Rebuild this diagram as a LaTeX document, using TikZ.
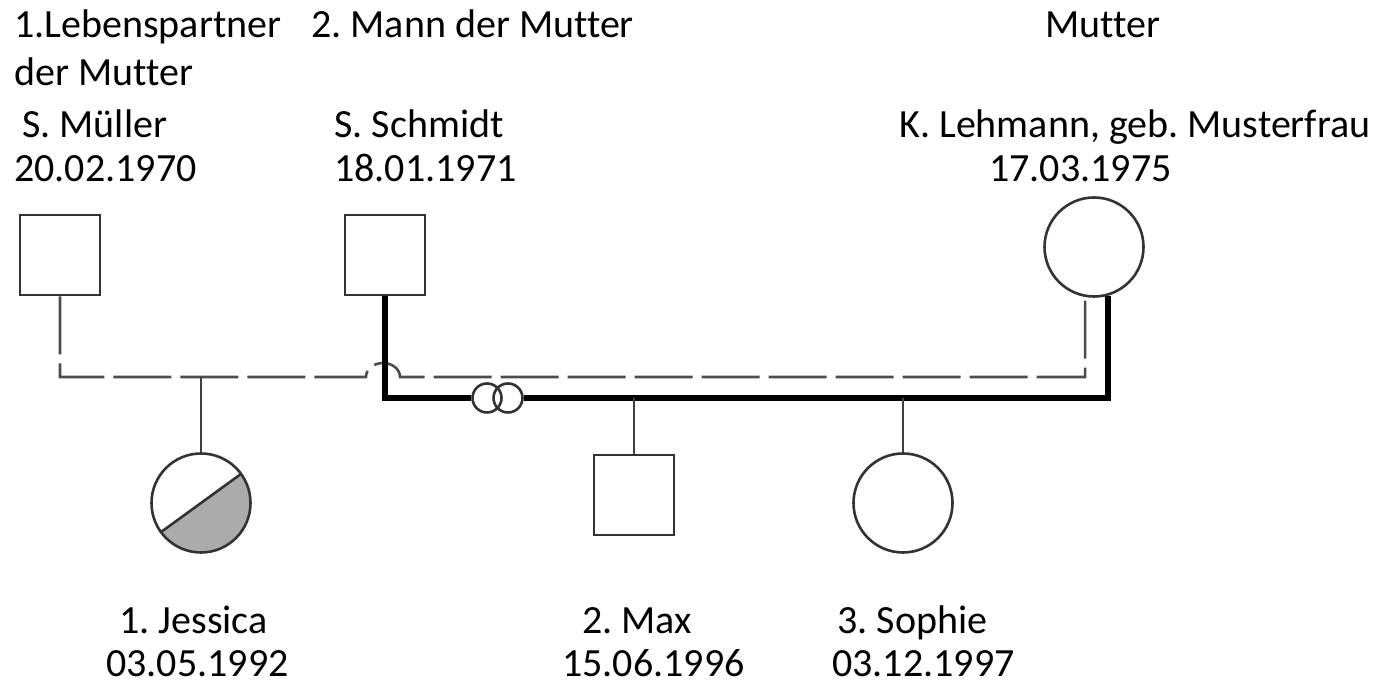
\documentclass[tikz,border=0pt]{standalone}
\usepackage{fontspec}
\setmainfont{Carlito}[Ligatures=NoCommon]
\usepackage{tikz}
\frenchspacing

\colorlet{halfgray}{black!33}

\begin{document}
\begin{tikzpicture}[x=1pt, y=1pt]
        \useasboundingbox (0,0) rectangle (1383,684);
        \tikzstyle{every node} = [draw=black!80, line width=2.6pt, inner sep=0pt]
        \tikzstyle{male} = [shape=rectangle, minimum size=80pt]
        \tikzstyle{female} = [shape=circle, minimum size=99pt]
        \tikzstyle{ring} = [shape=circle, minimum size=29pt]
        \tikzstyle{txt} = [draw=none, anchor=base west, text depth=0pt, font=\fontsize{40}{48}\selectfont]
        \tikzstyle{partner} = [line width=2.6pt, black!70, dash pattern=on 58pt off 9pt]
        \tikzstyle{married} = [line width=5.5pt, black]
        \tikzstyle{child} = [line width=2.6pt, black!75]
        % persons
        \node[male] (mu) at (60,429) {};
        \node[male] (sc) at (385,429) {};
        \node[female] (le) at (1094,437) {};
        \node[female, path picture={
            \fill[halfgray] (path picture bounding box.center) ++(216:70pt) -- ++(36:140pt) -- ++(-54:70pt) -- ++(216:140pt) -- cycle;
            \draw[line width=2.6pt, black!80] (path picture bounding box.center) ++(216:70pt) -- ++(36:140pt);
        }] (je) at (201,181) {};
        \node[male] (ma) at (634,189) {};
        \node[female] (so) at (903,181) {};
        % marriage rings
        \node[ring] (r1) at (487,286) {};
        \node[ring] (r2) at (508,286) {};
        % lines
        \coordinate (hump) at (366,307);
        \coordinate (jetop) at (201,307);
        \coordinate (matop) at (634,286);
        \coordinate (sotop) at (903,286);
        \draw[partner] (mu.south) |- (hump) arc[start angle=180, end angle=0, x radius=17, y radius=14] -| (le.-100);
        \draw[married] (sc.south) |- (r1.west);
        \draw[married] (r2.east) -| (le.-74);
        \foreach \from/\to in {jetop/je, matop/ma, sotop/so}
            \draw[child] (\from) -- (\to);
        % labels
        \node[txt] (mu1) at (13,646) {1.Lebenspartner};
        \node[txt] (mu2) at (13,598) {der Mutter};
        \node[txt] (mu3) at (21,546) {S. Müller};
        \node[txt] (mu4) at (13,502) {20.02.1970};
        \node[txt] (sc1) at (310,646) {2. Mann der Mutter};
        \node[txt] (sc2) at (333,546) {S. Schmidt};
        \node[txt] (sc3) at (333,502) {18.01.1971};
        \node[txt] (le1) at (1044,646) {Mutter};
        \node[txt] (le2) at (898,546) {K. Lehmann, geb. Musterfrau};
        \node[txt] (le3) at (988,502) {17.03.1975};
        \node[txt] (je1) at (118,50) {1. Jessica};
        \node[txt] (je2) at (105,7) {03.05.1992};
        \node[txt] (ma1) at (581,50) {2. Max};
        \node[txt] (ma2) at (561,7) {15.06.1996};
        \node[txt] (so1) at (836,50) {3. Sophie};
        \node[txt] (so2) at (831,7) {03.12.1997};
    \end{tikzpicture}
\end{document}
